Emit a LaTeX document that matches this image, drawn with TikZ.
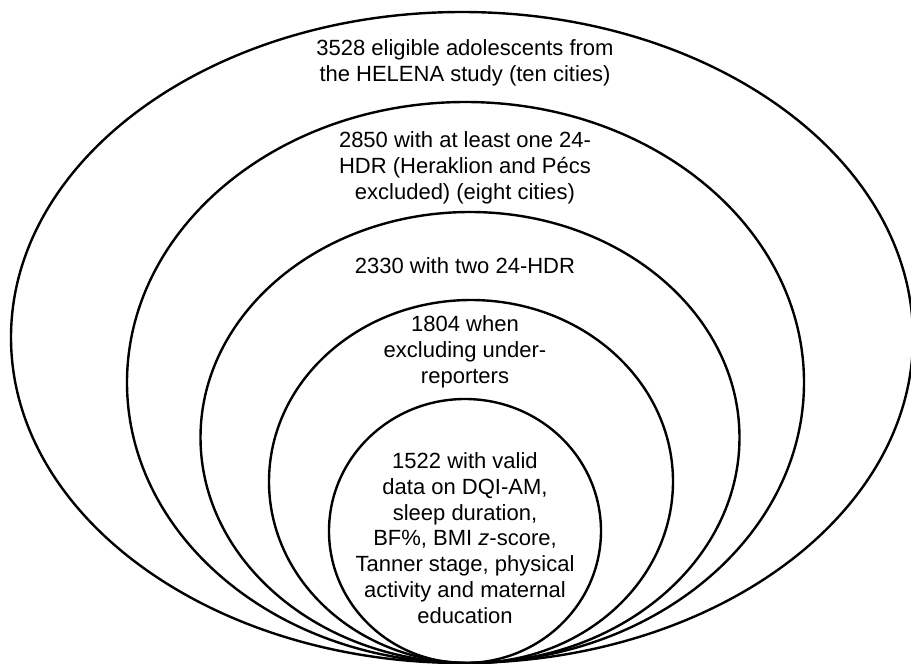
\documentclass[tikz,border=0pt]{standalone}
\usepackage{fontspec}
\setmainfont{Liberation Sans}
\begin{document}
\begin{tikzpicture}[x=1pt,y=-1pt,
  ring/.style={draw=black,line width=2.4pt},
  label/.style={align=center,inner sep=0pt,font=\fontsize{22}{25.8}\selectfont}]
\useasboundingbox (0,0) rectangle (911,664);
\fill[white] (0,0) rectangle (911,664);
% nested ellipses, all touching at the bottom
\draw[ring] (462,337.5) ellipse [x radius=451pt, y radius=325.5pt];
\draw[ring] (465.5,382.5) ellipse [x radius=338.5pt, y radius=280.5pt];
\draw[ring] (470,437.5) ellipse [x radius=269.5pt, y radius=225.5pt];
\draw[ring] (471,481.5) ellipse [x radius=202pt, y radius=181.5pt];
\draw[ring] (465,531) ellipse [x radius=136pt, y radius=132pt];
% labels
\node[label] (l1) at (465,63) {3528 eligible adolescents from\\the HELENA study (ten cities)};
\node[label] (l2) at (465,168) {2850 with at least one 24-\\HDR (Heraklion and Pécs\\excluded) (eight cities)};
\node[label] (l3) at (465,266) {2330 with two 24-HDR};
\node[label] (l4) at (465,352) {1804 when\\excluding under-\\reporters};
\node[label] (l5) at (465,538) {1522 with valid\\data on DQI-AM,\\sleep duration,\\BF\%, BMI \textit{z}-score,\\Tanner stage, physical\\activity and maternal\\education};
\end{tikzpicture}
\end{document}
